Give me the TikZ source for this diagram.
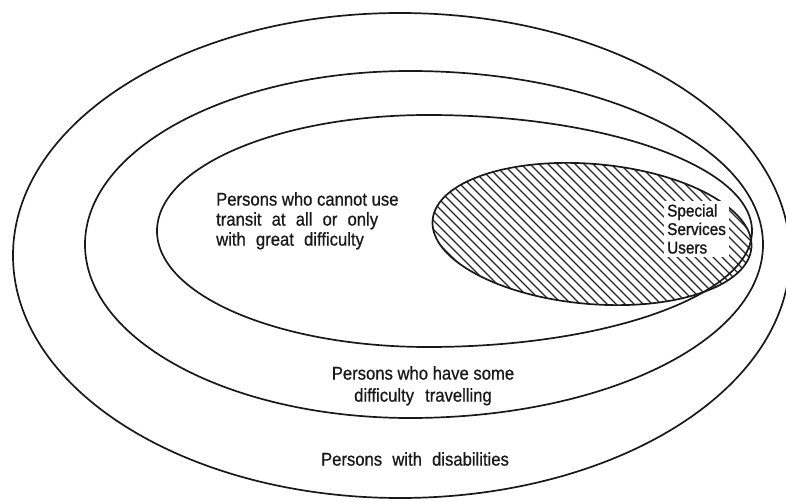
\documentclass[tikz,border=0pt]{standalone}
\usepackage{fontspec}
\setmainfont{Liberation Sans}
\newfontfamily\lblfont[FakeStretch=0.9, FakeBold=0.7]{Liberation Sans}
\newfontfamily\ssufont[FakeStretch=0.9, FakeBold=1.3]{Liberation Sans}
% closed egg-shaped ring: top/bottom x, centre y, half height, left and right half widths
\newcommand\eggring[6]{%
  \draw[ring] (#1,#2-#3) coordinate (#6)
    arc[start angle=90, end angle=270, x radius=#4pt, y radius=#3pt]
    arc[start angle=270, end angle=450, x radius=#5pt, y radius=#3pt] -- cycle;}
\begin{document}
\begin{tikzpicture}[x=1pt,y=-1pt,
  ring/.style={line width=1.7pt, draw=black!90},
  hatchline/.style={line width=1.2pt, draw=black!85},
  lbl/.style={font=\lblfont\fontsize{18.5}{20}\selectfont, inner sep=0pt, text=black!90},
  smalllbl/.style={font=\ssufont\fontsize{17}{18.5}\selectfont, text=black!90}]
\useasboundingbox (0,0) rectangle (786,502);

% nested population rings
\eggring{400}{255.5}{242.5}{387}{390}{outer}
\eggring{410}{244.5}{173.5}{325}{353}{middle}

% hatched special-services area
\begin{scope}
  \clip[shift={(592,234)}, rotate=-5] (0,0) ellipse[x radius=160pt, y radius=70pt];
  \foreach \c in {330,339,...,850}
    \draw[hatchline] (\c-120,114) -- (\c+120,354);
\end{scope}
\draw[ring, shift={(592,234)}, rotate=-5] (0,0) ellipse[x radius=160pt, y radius=70pt];

\eggring{428}{231}{116}{271}{324}{inner}

% labels
\node[smalllbl, fill=white, inner sep=3pt, align=left, anchor=north west] (ssu) at (664,201)
  {Special\\Services\\Users};
\node[lbl, align=left, anchor=north west] (cannot) at (216,192)
  {Persons who cannot use\\{\spaceskip=0.55em transit at all or only}\\{\spaceskip=0.55em with great difficulty}};
\node[lbl, align=center, anchor=north, font=\lblfont\fontsize{18.5}{22}\selectfont] (some) at (423,366)
  {Persons who have some\\{\spaceskip=0.6em difficulty travelling}};
\node[lbl, anchor=north] (dis) at (415,452)
  {{\spaceskip=0.55em Persons with disabilities}};
\end{tikzpicture}
\end{document}
